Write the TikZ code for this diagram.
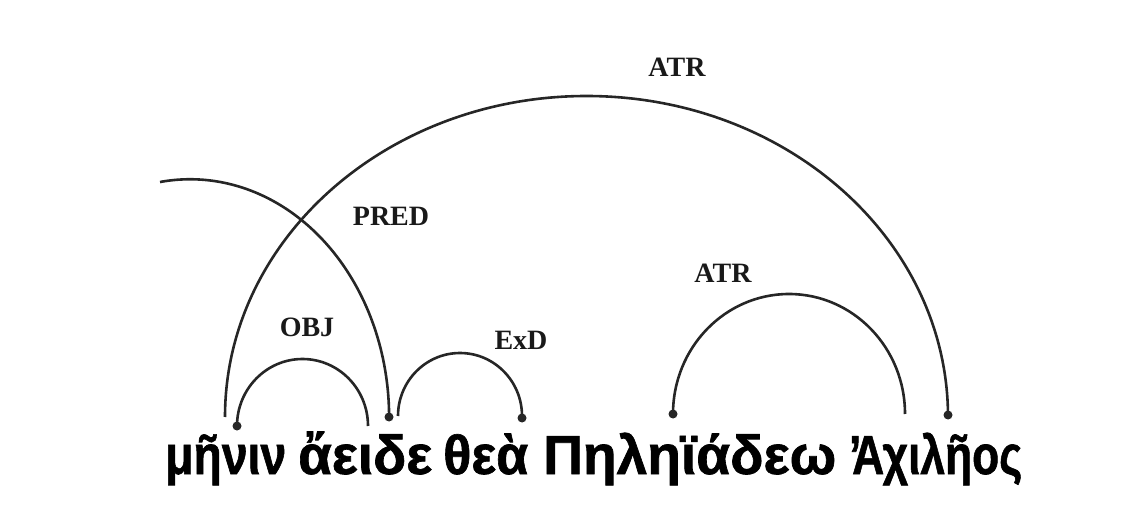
\documentclass[tikz,border=0pt]{standalone}
\usepackage{fontspec}
\usepackage{graphicx}
\setmainfont{Liberation Serif}
\newfontfamily\greekfont{Liberation Sans}[UprightFont={* Bold}, FakeBold=1.2]
\newcommand{\fitword}[2]{\resizebox{#1pt}{\height}{#2}}
\begin{document}
\begin{tikzpicture}[x=1pt,y=-1pt,
  arcline/.style={line width=2.6pt, draw=black!85},
  lbl/.style={font=\fontsize{28}{30}\selectfont\bfseries, inner sep=0pt, text=black!90},
  word/.style={font=\greekfont\fontsize{55}{60}\selectfont, inner sep=0pt, anchor=base west},
  dotn/.style={circle, fill=black!85, inner sep=0pt, minimum size=9pt}]
\useasboundingbox (0,0) rectangle (1134,510);
% words
\node[word] (w1) at (165,474) {\fitword{121}{μῆνιν}};
\node[word] (w2) at (298,474) {\fitword{134}{ἄειδε}};
\node[word] (w3) at (443,474) {\fitword{85}{θεὰ}};
\node[word] (w4) at (543,474) {\fitword{293}{Πηληϊάδεω}};
\node[word] (w5) at (852,474) {\fitword{170}{\rlap{\kern-4pt ’}Αχιλῆος}};
% arc feet
\coordinate (atrBL) at (225,417);
\node[dotn] (atrBR) at (948,415) {};
\node[dotn] (objL) at (237,426) {};
\coordinate (objR) at (368,424);
\coordinate (predFree) at (160,182);
\node[dotn] (predR) at (389,417) {};
\coordinate (exdL) at (398,416);
\node[dotn] (exdR) at (522,418) {};
\node[dotn] (atrSL) at (673,414) {};
\coordinate (atrSR) at (905,413);
% arcs
\draw[arcline] (atrBL) arc[start angle=180, end angle=0, x radius=361.5pt, y radius=321pt];
\draw[arcline] (objL.center) arc[start angle=180, end angle=0, x radius=65.5pt, y radius=67pt];
\draw[arcline] (predFree) arc[start angle=98.7, end angle=0, x radius=199pt, y radius=238pt];
\draw[arcline] (exdL) arc[start angle=180, end angle=0, x radius=62pt, y radius=63pt];
\draw[arcline] (atrSL.center) arc[start angle=180, end angle=0, x radius=116pt, y radius=120pt];
% labels
\node[lbl] (lAtrB) at (677,67) {ATR};
\node[lbl] (lPred) at (391,216) {PRED};
\node[lbl] (lObj) at (307,327) {OBJ};
\node[lbl] (lExd) at (521,340) {ExD};
\node[lbl] (lAtrS) at (723,273) {ATR};
\end{tikzpicture}
\end{document}
